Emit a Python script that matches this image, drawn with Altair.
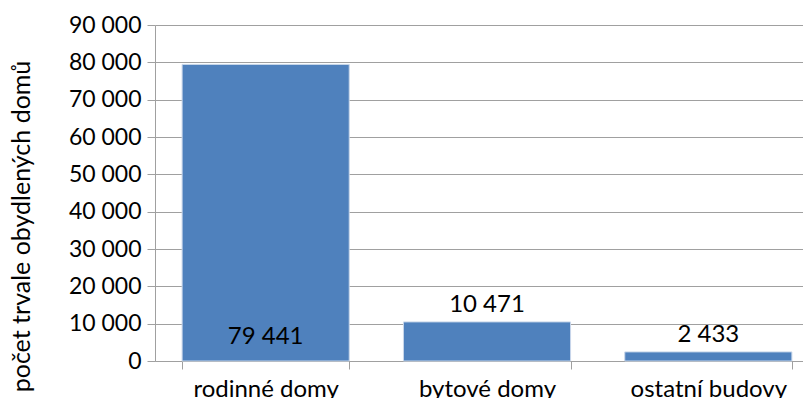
import altair as alt
import pandas as pd

categories = ["rodinné domy", "bytové domy", "ostatní budovy"]
values = [79441, 10471, 2433]
label_inside = [True, False, False]
y_ticks = [0, 10000, 20000, 30000, 40000, 50000, 60000, 70000, 80000, 90000]

df = pd.DataFrame({"kategorie": categories, "pocet": values, "inside": label_inside})

FONT = "Lato"
LINE = "#A0A0A0"

x_scale = alt.Scale(range=[0, 664], paddingInner=0.245, paddingOuter=0.1225)
x_axis = alt.Axis(labelAngle=0, labelFontSize=24, labelPadding=8, tickBand="extent",
                  tickSize=8, domainColor=LINE, tickColor=LINE,
                  labelColor="#000000", labelFont=FONT)
y_scale = alt.Scale(domain=[0, 90000], nice=False)
y_axis = alt.Axis(values=y_ticks, format=",d", tickSize=8, labelOverlap=False,
                  labelFontSize=23, labelPadding=6, labelColor="#000000", labelFont=FONT,
                  domainColor=LINE, tickColor=LINE, grid=True,
                  gridColor=LINE, titleFontSize=25, titleFont=FONT,
                  titleFontWeight="normal", titleColor="#000000", titleAngle=270,
                  titleX=-134, titleY=201, titleAlign="center", titleBaseline="middle")
Y_TITLE = "počet trvale obydlených domů"

bars = alt.Chart(df).mark_bar(color="#4F81BD", stroke="#C9D7EA", strokeWidth=1).encode(
    x=alt.X("kategorie:N", sort=categories, title=None, scale=x_scale, axis=x_axis),
    y=alt.Y("pocet:Q", title=Y_TITLE, scale=y_scale, axis=y_axis),
)

base_lbl = alt.Chart(df).transform_calculate(
    ly="datum.inside ? 0 : datum.pocet"
)

lbl_enc = dict(
    x=alt.X("kategorie:N", sort=categories, title=None, scale=x_scale, axis=x_axis),
    y=alt.Y("ly:Q", title=Y_TITLE, scale=y_scale, axis=y_axis),
    text=alt.Text("pocet:Q", format=",d"),
)

labels_in = base_lbl.transform_filter("datum.inside").mark_text(
    baseline="middle", dy=-24, fontSize=24, font=FONT, color="#000000").encode(**lbl_enc)
labels_out = base_lbl.transform_filter("!datum.inside").mark_text(
    baseline="middle", dy=-17, fontSize=24, font=FONT, color="#000000").encode(**lbl_enc)

chart = alt.layer(bars, labels_in, labels_out).properties(
    width=648, height=336,
    autosize=alt.AutoSizeParams(type="none"),
    padding={"left": 147, "top": 17, "right": 0, "bottom": 37},
).configure(
    locale=alt.Locale(number=alt.NumberLocale(decimal=",", thousands=" ", grouping=[3],
                                              currency=["", " Kč"]))
).configure_view(stroke=None)

chart.save("out.html", embed_options={"renderer": "svg", "actions": False})
